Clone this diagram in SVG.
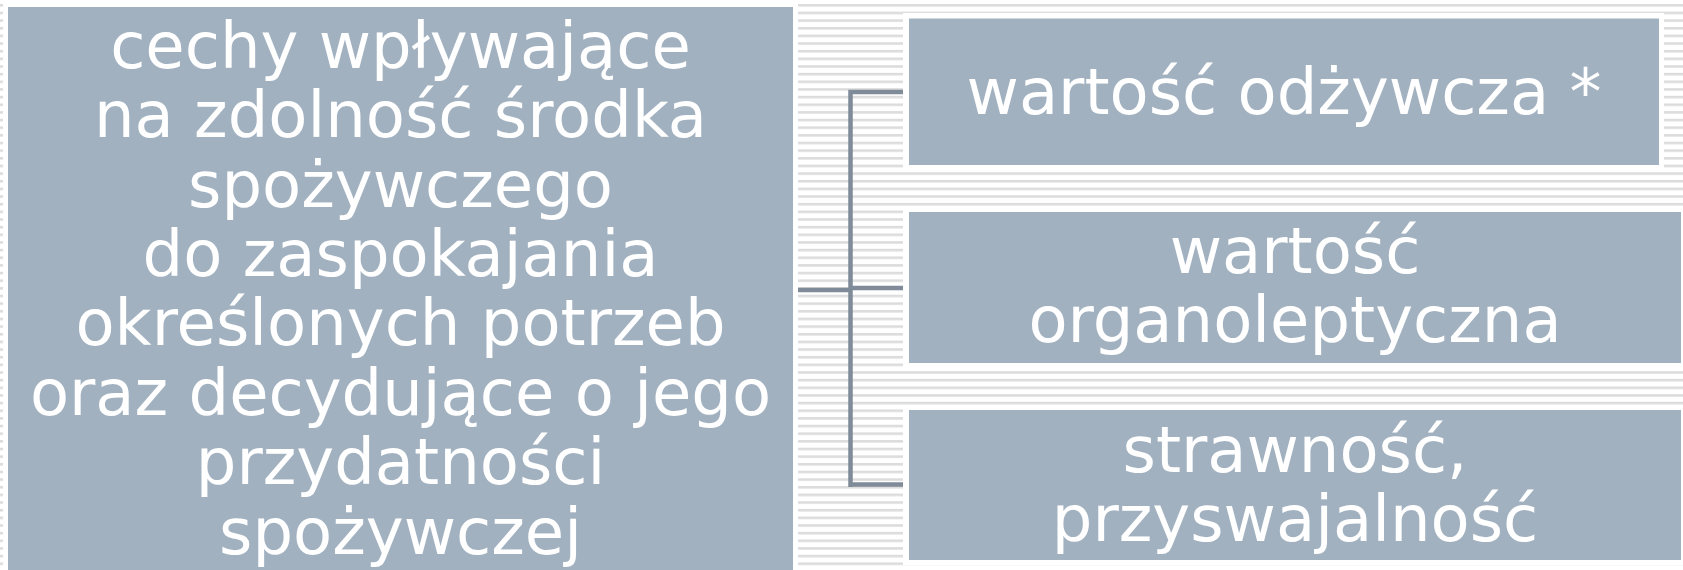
<svg xmlns="http://www.w3.org/2000/svg" width="1683" height="570" viewBox="0 0 1683 570">
<defs>
<pattern id="stripes" x="0" y="4" width="20" height="7.65" patternUnits="userSpaceOnUse">
<rect x="0" y="0" width="20" height="2.6" fill="#dcdcdc"/>
</pattern>
<style>
.halo{fill:#ffffff}
.box{fill:#a2b1c0}
.t{font-family:"DejaVu Sans","Verdana",sans-serif;font-size:64px;fill:#ffffff;text-anchor:middle}
.con{stroke:#7f8b98;stroke-width:4.5;fill:none}
</style>
</defs>
<rect x="0" y="0" width="1683" height="570" fill="#ffffff"/>
<rect x="0" y="0" width="1683" height="570" fill="url(#stripes)"/>
<g id="node-main">
<rect class="halo" x="3" y="2" width="795" height="580"/>
<rect class="box" x="8" y="7" width="785" height="570"/>
<text class="t" x="400.5" y="67.5">cechy wpływające</text>
<text class="t" x="400.5" y="137">na zdolność środka</text>
<text class="t" x="400.5" y="206.5">spożywczego</text>
<text class="t" x="400.5" y="276">do zaspokajania</text>
<text class="t" x="400.5" y="345">określonych potrzeb</text>
<text class="t" x="400.5" y="414.5">oraz decydujące o jego</text>
<text class="t" x="400.5" y="484">przydatności</text>
<text class="t" x="400.5" y="553.5">spożywczej</text>
</g>
<g id="node-1">
<rect class="halo" x="903" y="13" width="761" height="157"/>
<rect class="box" x="909" y="18.5" width="750" height="146.5"/>
<text class="t" x="1284" y="113.5">wartość odżywcza *</text>
</g>
<g id="node-2">
<rect class="halo" x="903" y="207" width="785" height="161"/>
<rect class="box" x="909" y="212" width="772" height="151"/>
<text class="t" x="1295" y="273">wartość</text>
<text class="t" x="1295" y="341.5">organoleptyczna</text>
</g>
<g id="node-3">
<rect class="halo" x="903" y="405" width="785" height="160"/>
<rect class="box" x="909" y="410" width="772" height="150"/>
<text class="t" x="1295" y="472">strawność,</text>
<text class="t" x="1295" y="540.5">przyswajalność</text>
</g>
<g id="connectors">
<path class="con" d="M903,92 H850.5 V487"/>
<path class="con" d="M798,290 H850.5"/>
<path class="con" d="M850.5,288 H903"/>
<path class="con" d="M850.5,484.5 H903"/>
</g>
</svg>
